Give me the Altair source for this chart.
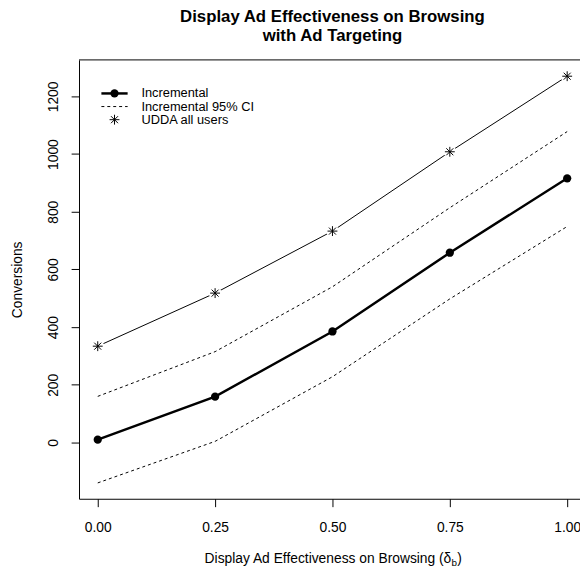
import altair as alt
import pandas as pd

# ---- data ----
x_vals = [0.0, 0.25, 0.5, 0.75, 1.0]
incremental = [10, 159, 385, 658, 916]
ci_lower = [-140, 4, 228, 498, 749]
ci_upper = [160, 315, 540, 814, 1078]
udda = [334, 518, 733, 1008, 1270]

x_ticks = [0.0, 0.25, 0.5, 0.75, 1.0]
y_ticks = [0, 200, 400, 600, 800, 1000, 1200]
legend_labels = ["Incremental", "Incremental 95% CI", "UDDA all users"]
title_lines = ["Display Ad Effectiveness on Browsing", "with Ad Targeting"]
x_title_main = "Display Ad Effectiveness on Browsing (δ"
x_title_sub = "b"
x_title_end = ")"
y_title = "Conversions"

df = pd.DataFrame({"x": x_vals, "inc": incremental, "lo": ci_lower,
                   "hi": ci_upper, "udda": udda})

W, H = 508, 445
FONT = "Liberation Sans"
FS = 14
LFS = 13
STAR = "M-1,0L1,0M0,-1L0,1M-0.71,-0.71L0.71,0.71M-0.71,0.71L0.71,-0.71"

xs = alt.Scale(domain=[-0.0399, 1.0273], nice=False, zero=False)
ys = alt.Scale(domain=[-195, 1326.5], nice=False, zero=False)

x_axis = alt.Axis(values=x_ticks, format=".2f", title=None, grid=False,
                  tickSize=8, labelPadding=14, labelFont=FONT, labelFontSize=FS,
                  labelColor="black", domainColor="black", tickColor="black",
                  labelFlush=False, labelOverlap=False)
y_axis = alt.Axis(values=y_ticks, format="d", title=y_title, grid=False,
                  tickSize=8, labelPadding=10.5, labelFont=FONT, labelFontSize=FS,
                  labelAngle=-90, labelAlign="center", labelBaseline="bottom",
                  labelColor="black", domainColor="black", tickColor="black",
                  titleFont=FONT, titleFontSize=FS, titleFontWeight="normal",
                  titleColor="black", titleAngle=-90, titleAlign="center",
                  titleBaseline="middle", titleX=-62, titleY=H / 2,
                  labelFlush=False, labelOverlap=False)

def X():
    return alt.X("x:Q", scale=xs, axis=x_axis)

def Y(field):
    return alt.Y(f"{field}:Q", scale=ys, axis=y_axis)

base = alt.Chart(df)

hi_line = base.mark_line(color="black", strokeWidth=1, strokeDash=[3, 3]).encode(x=X(), y=Y("hi"))
lo_line = base.mark_line(color="black", strokeWidth=1, strokeDash=[3, 3]).encode(x=X(), y=Y("lo"))
udda_line = base.mark_line(color="black", strokeWidth=1).encode(x=X(), y=Y("udda"))
udda_gap = base.mark_point(shape="circle", filled=True, color="white", opacity=1,
                           size=170).encode(x=X(), y=Y("udda"))
udda_pts = base.mark_point(shape=STAR, filled=False, color="black", opacity=1,
                           size=100, strokeWidth=1).encode(x=X(), y=Y("udda"))
inc_line = base.mark_line(color="black", strokeWidth=2.5).encode(x=X(), y=Y("inc"))
inc_pts = base.mark_point(shape="circle", filled=True, color="black", opacity=1,
                          size=70).encode(x=X(), y=Y("inc"))

# top border of the box
top_border = alt.Chart(pd.DataFrame({"k": [0]})).mark_rule(color="black", strokeWidth=1).encode(
    x=alt.value(0), x2=alt.value(W), y=alt.value(0))

# ---- legend ----
lrow = [34, 47.3, 60.6]
lx1, lx2, lxc, ltx = 22.7, 49.3, 36, 63.3
one = pd.DataFrame({"k": [0]})
leg1_line = alt.Chart(one).mark_rule(color="black", strokeWidth=2.5).encode(
    x=alt.value(lx1), x2=alt.value(lx2), y=alt.value(lrow[0]))
leg1_pt = alt.Chart(one).mark_point(shape="circle", filled=True, color="black",
                                    opacity=1, size=70).encode(
    x=alt.value(lxc), y=alt.value(lrow[0]))
leg2_line = alt.Chart(one).mark_rule(color="black", strokeWidth=1, strokeDash=[3, 3]).encode(
    x=alt.value(lx1), x2=alt.value(lx2), y=alt.value(lrow[1]))
leg3_pt = alt.Chart(one).mark_point(shape=STAR, filled=False, color="black",
                                    opacity=1, size=100, strokeWidth=1).encode(
    x=alt.value(lxc), y=alt.value(lrow[2]))
leg_text = []
for lab, ry in zip(legend_labels, lrow):
    leg_text.append(alt.Chart(pd.DataFrame({"label": [lab]})).mark_text(
        align="left", baseline="middle", font=FONT, fontSize=LFS, color="black").encode(
        x=alt.value(ltx), y=alt.value(ry), text="label:N"))

# ---- title (two lines) ----
title_marks = []
for line, by in zip(title_lines, [-38.4, -19.4]):
    title_marks.append(alt.Chart(pd.DataFrame({"t": [line]})).mark_text(
        align="center", baseline="alphabetic", font=FONT, fontSize=17,
        fontWeight="bold", color="black").encode(
        x=alt.value(257), y=alt.value(by), text="t:N"))

# ---- x axis title with subscript ----
xt_base = 510.3
main_end = 377.5
xt_main = alt.Chart(pd.DataFrame({"t": [x_title_main]})).mark_text(
    align="right", baseline="alphabetic", font=FONT, fontSize=FS, color="black").encode(
    x=alt.value(main_end), y=alt.value(xt_base), text="t:N")
xt_sub = alt.Chart(pd.DataFrame({"t": [x_title_sub]})).mark_text(
    align="left", baseline="alphabetic", font=FONT, fontSize=10, color="black").encode(
    x=alt.value(main_end + 0.3), y=alt.value(xt_base + 3), text="t:N")
xt_end = alt.Chart(pd.DataFrame({"t": [x_title_end]})).mark_text(
    align="left", baseline="alphabetic", font=FONT, fontSize=FS, color="black").encode(
    x=alt.value(main_end + 6), y=alt.value(xt_base), text="t:N")

chart = alt.layer(
    hi_line, lo_line, udda_line, udda_gap, udda_pts, inc_line, inc_pts,
    top_border, leg1_line, leg1_pt, leg2_line, leg3_pt, *leg_text,
    *title_marks, xt_main, xt_sub, xt_end
).properties(
    width=W, height=H,
    autosize=alt.AutoSizeParams(type="none"),
    padding={"left": 72, "top": 48.7, "right": 0, "bottom": 70},
    background="white",
).configure_view(stroke=None)

chart.save("out.html", embed_options={"renderer": "svg", "actions": False})
